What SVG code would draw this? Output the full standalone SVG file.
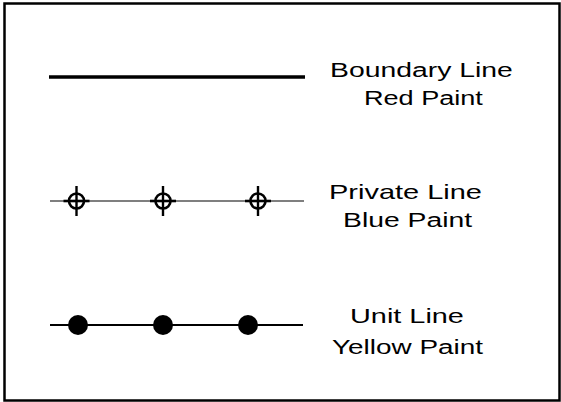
<svg xmlns="http://www.w3.org/2000/svg" width="561" height="402" viewBox="0 0 561 402">
<defs>
<style>
.lbl{font-family:"Liberation Sans",Arial,sans-serif;font-size:21px;fill:#000}
.ln{stroke:#000;fill:none}
</style>
<g id="crosshair">
<circle cx="0" cy="0" r="7.5" fill="none" stroke="#000" stroke-width="2.6"/>
<line x1="-13" y1="0" x2="13" y2="0" stroke="#000" stroke-width="2.6"/>
<line x1="0" y1="-15" x2="0" y2="15" stroke="#000" stroke-width="2.4"/>
</g>
</defs>
<rect width="561" height="402" fill="#fff"/>
<rect id="frame" x="4.5" y="3.5" width="555" height="397" fill="none" stroke="#000" stroke-width="2.5"/>
<g id="connectors">
<line class="ln" x1="49" y1="77" x2="305" y2="77" stroke-width="3.5"/>
<line class="ln" x1="50" y1="201" x2="304" y2="201" stroke-width="1.2"/>
<line class="ln" x1="50" y1="325" x2="303" y2="325" stroke-width="2"/>
</g>
<g id="private-markers">
<use href="#crosshair" x="76.5" y="201"/>
<use href="#crosshair" x="163" y="201"/>
<use href="#crosshair" x="258" y="201"/>
</g>
<g id="unit-markers">
<circle cx="78" cy="325" r="10" fill="#000"/>
<circle cx="163" cy="325" r="10" fill="#000"/>
<circle cx="248" cy="325" r="10" fill="#000"/>
</g>
<g id="boundary-label">
<text class="lbl" transform="translate(330,77) scale(1.35,1)">Boundary Line</text>
<text class="lbl" transform="translate(364,105) scale(1.29,1)">Red Paint</text>
</g>
<g id="private-label">
<text class="lbl" transform="translate(329,199) scale(1.38,1)">Private Line</text>
<text class="lbl" transform="translate(343,227) scale(1.35,1)">Blue Paint</text>
</g>
<g id="unit-label">
<text class="lbl" transform="translate(350,323) scale(1.375,1)">Unit Line</text>
<text class="lbl" transform="translate(332,354) scale(1.33,1)">Yellow Paint</text>
</g>
</svg>
